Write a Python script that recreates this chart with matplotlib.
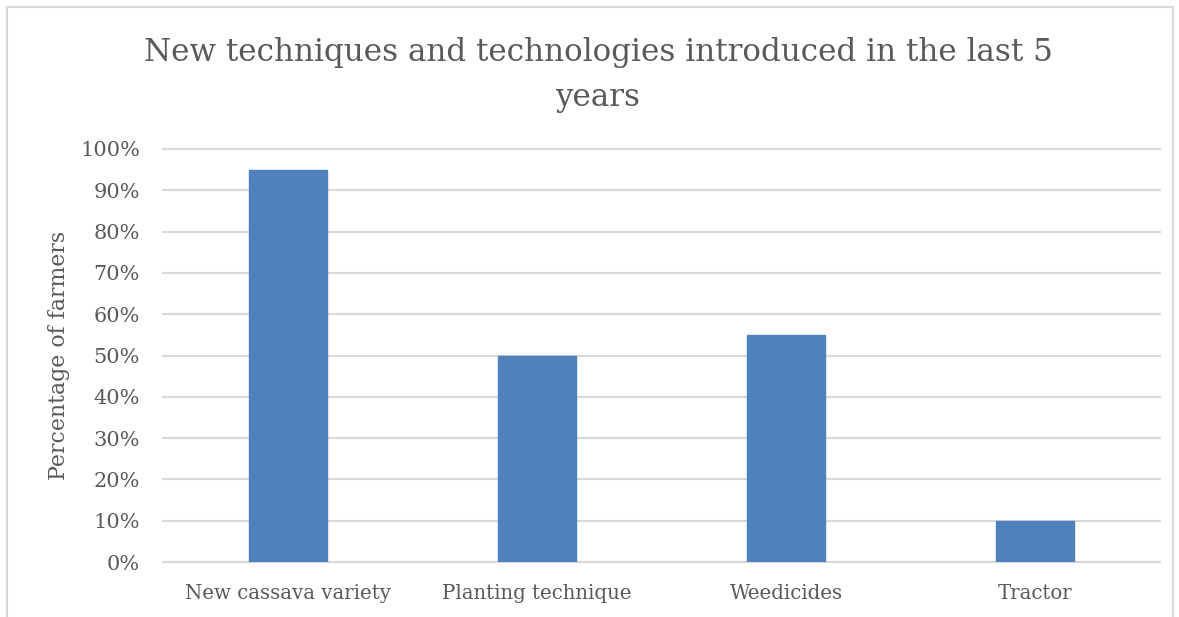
import matplotlib
matplotlib.use("Agg")
import matplotlib.pyplot as plt
from matplotlib.patches import Rectangle
from matplotlib.ticker import PercentFormatter

categories = ["New cassava variety", "Planting technique", "Weedicides", "Tractor"]
values = [95, 50, 55, 10]
yticks = [0, 10, 20, 30, 40, 50, 60, 70, 80, 90, 100]

W, H = 1179, 617
fig = plt.figure(figsize=(W / 100, H / 100), dpi=100)
plt.rcParams["font.family"] = ["DejaVu Serif"]
text_color = "#595959"

ax = fig.add_axes([163 / W, 1 - 562 / H, (1160 - 163) / W, (562 - 149) / H])
x = range(len(categories))
ax.bar(x, values, width=0.313, color="#4F81BD", edgecolor="#4F81BD", zorder=3)
ax.set_xlim(-0.5, len(categories) - 0.5)
ax.set_ylim(0, 100)
ax.set_yticks(yticks)
ax.yaxis.set_major_formatter(PercentFormatter(decimals=0))
ax.set_xticks(list(x))
ax.set_xticklabels(categories)
ax.grid(axis="y", color="#D9D9D9", linewidth=1.5, zorder=0)
for gl in ax.get_ygridlines():
    gl.set_clip_on(False)
for s in ["top", "right", "left"]:
    ax.spines[s].set_visible(False)
ax.spines["bottom"].set_color("#D9D9D9")
ax.spines["bottom"].set_linewidth(1.5)
ax.tick_params(axis="both", length=0, colors=text_color)
ax.tick_params(axis="y", pad=16.5, labelsize=15)
ax.tick_params(axis="x", pad=16, labelsize=14.2)
ax.set_ylabel("Percentage of farmers", color=text_color, fontsize=15.8, labelpad=7)

fig.text(598 / W, 1 - 75 / H, "New techniques and technologies introduced in the last 5\nyears",
         ha="center", va="center", fontsize=22.3, color=text_color, linespacing=1.6)

# outer chart frame
fig.patches.append(Rectangle((7 / W, -0.1), (1173 - 7) / W, 1 - 7 / H + 0.1,
                             transform=fig.transFigure, fill=False,
                             edgecolor="#D9D9D9", linewidth=1.5))

fig.savefig("out.png", dpi=100)
